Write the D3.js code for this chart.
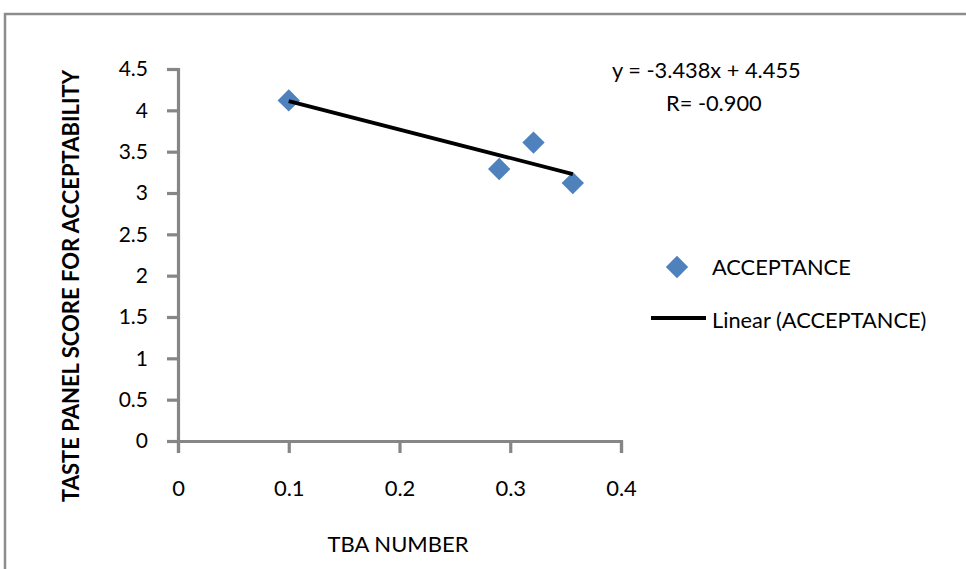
<!DOCTYPE html>
<html>
<head>
<meta charset="utf-8">
<script src="https://cdn.jsdelivr.net/npm/d3@7"></script>
<style>
  body { margin: 0; background: #fff; }
  svg { display: block; font-family: Lato, "Open Sans", sans-serif; }
</style>
</head>
<body>
<div id="chart"></div>
<script>
// data
var tbaNumber = [0.1, 0.29, 0.321, 0.3565];
var acceptance = [4.12, 3.29, 3.61, 3.12];
var xTicks = [0, 0.1, 0.2, 0.3, 0.4];
var yTicks = [0, 0.5, 1, 1.5, 2, 2.5, 3, 3.5, 4, 4.5];
var trendSlope = -3.438;
var trendIntercept = 4.455;
var trendLabels = ['y = -3.438x + 4.455', 'R= -0.900'];
var legendLabels = ['ACCEPTANCE', 'Linear (ACCEPTANCE)'];

var width = 966, height = 569;
var blue = '#4F81BD', axisGrey = '#868686';

var svg = d3.select('#chart').append('svg')
    .attr('width', width)
    .attr('height', height);

svg.append('rect').attr('width', width).attr('height', height).attr('fill', '#fff');

// chart frame (only top and left edges are visible)
svg.append('path')
    .attr('d', 'M5,' + height + 'V14H' + width)
    .attr('fill', 'none')
    .attr('stroke', '#8c8c8c')
    .attr('stroke-width', 2.5);

var x = d3.scaleLinear().domain([0, 0.4]).range([178, 621]);
var y = d3.scaleLinear().domain([0, 4.5]).range([441, 69]);

// y axis
var yAxis = svg.append('g')
    .attr('transform', 'translate(' + x(0) + ',0)')
    .call(d3.axisLeft(y).tickValues(yTicks).tickSize(11).tickPadding(19)
      .tickFormat(function(d) { return String(d); }));
yAxis.select('.domain').attr('stroke', axisGrey).attr('stroke-width', 3.2);
yAxis.selectAll('.tick line').attr('stroke', axisGrey).attr('stroke-width', 3.2);
yAxis.selectAll('.tick text')
    .attr('fill', '#000')
    .style('font-size', '21px')
    .style('font-family', 'Lato, sans-serif');

// x axis
var xAxis = svg.append('g')
    .attr('transform', 'translate(0,' + y(0) + ')')
    .call(d3.axisBottom(x).tickValues(xTicks).tickSize(12).tickPadding(27)
      .tickFormat(function(d) { return String(d); }));
xAxis.select('.domain').attr('stroke', axisGrey).attr('stroke-width', 3.2);
xAxis.selectAll('.tick line').attr('stroke', axisGrey).attr('stroke-width', 3.2);
xAxis.selectAll('.tick text')
    .attr('fill', '#000')
    .style('font-size', '22px')
    .style('font-family', 'Lato, sans-serif');

// axis titles
svg.append('text')
    .attr('x', 398).attr('y', 552)
    .attr('text-anchor', 'middle')
    .style('font-size', '22px')
    .text('TBA NUMBER');

svg.append('text')
    .attr('transform', 'translate(79,286) rotate(-90)')
    .attr('text-anchor', 'middle')
    .style('font-size', '22px')
    .style('font-weight', 'bold')
    .text('TASTE PANEL SCORE FOR ACCEPTABILITY');

// points
var diamond = d3.symbol().type(d3.symbolSquare).size(250);
svg.append('g').selectAll('path')
    .data(tbaNumber)
    .enter().append('path')
    .attr('d', diamond)
    .attr('transform', function(d, i) {
      return 'translate(' + x(d) + ',' + y(acceptance[i]) + ') rotate(45)';
    })
    .attr('fill', blue);

// linear trend line over the data range
var xExtent = d3.extent(tbaNumber);
svg.append('line')
    .attr('x1', x(xExtent[0])).attr('y1', y(trendSlope * xExtent[0] + trendIntercept))
    .attr('x2', x(xExtent[1])).attr('y2', y(trendSlope * xExtent[1] + trendIntercept))
    .attr('stroke', '#000')
    .attr('stroke-width', 3.8);

// trend equation
svg.append('text').attr('x', 612).attr('y', 78)
    .style('font-size', '21.8px').text(trendLabels[0]);
svg.append('text').attr('x', 666).attr('y', 111)
    .style('font-size', '21.8px').text(trendLabels[1]);

// legend
svg.append('path')
    .attr('d', diamond)
    .attr('transform', 'translate(677,267) rotate(45)')
    .attr('fill', blue);
svg.append('text').attr('x', 712).attr('y', 275)
    .style('font-size', '21.8px').text(legendLabels[0]);

svg.append('line')
    .attr('x1', 651).attr('x2', 706)
    .attr('y1', 318).attr('y2', 318)
    .attr('stroke', '#000').attr('stroke-width', 3.8);
svg.append('text').attr('x', 712).attr('y', 328)
    .style('font-size', '21.8px').text(legendLabels[1]);
</script>
</body>
</html>
